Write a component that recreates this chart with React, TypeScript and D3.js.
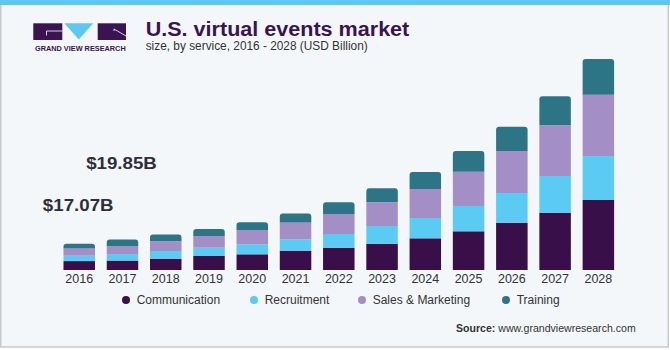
import React from 'react';
import * as d3 from 'd3';

// ---- data ----
const years = ['2016', '2017', '2018', '2019', '2020', '2021', '2022', '2023', '2024', '2025', '2026', '2027', '2028'];
const seriesNames = ['Communication', 'Recruitment', 'Sales & Marketing', 'Training'];
const communication = [5.78, 6.13, 7.34, 9.09, 10.19, 12.53, 14.48, 17.08, 20.58, 25.13, 30.71, 37.21, 45.45];
const recruitment = [3.52, 4.23, 5.0, 5.39, 6.49, 7.34, 8.9, 11.49, 13.18, 16.43, 19.29, 23.83, 28.57];
const salesMarketing = [4.65, 5.06, 6.3, 7.6, 9.29, 11.04, 12.99, 15.39, 18.83, 22.27, 27.27, 32.92, 39.81];
const training = [3.12, 4.43, 4.35, 4.55, 5.0, 5.84, 7.6, 9.09, 11.04, 13.44, 15.78, 18.83, 23.18];
const annotationYears = ['2016', '2017'];
const annotationLabels = ['$17.07B', '$19.85B'];

// ---- styles / layout ----
const W = 670;
const H = 350;
const colors = ['#380f48', '#5ccbf4', '#a38ec5', '#2e7487'];
const bg = '#f3f7fa';
const sans = '"Liberation Sans", Arial, sans-serif';
const legendX = [126, 254, 362, 506];
const annotationY = [211, 169.3];

function roundedTop(x: number, y: number, w: number, h: number, r: number) {
  const p = d3.path();
  p.moveTo(x, y + h);
  p.lineTo(x, y + r);
  p.arcTo(x, y, x + r, y, r);
  p.lineTo(x + w - r, y);
  p.arcTo(x + w, y, x + w, y + r, r);
  p.lineTo(x + w, y + h);
  p.closePath();
  return p.toString();
}

export default function App() {
  const x = d3.scaleBand<string>().domain(years).range([57.6, 620]).paddingInner(0.272).paddingOuter(0.136);
  const y = d3.scaleLinear().domain([0, 140]).range([270, 54.4]);
  const seriesArrays = [communication, recruitment, salesMarketing, training];
  const table = years.map((yr, i) => {
    const row: any = { year: yr };
    seriesNames.forEach((s, j) => (row[s] = seriesArrays[j][i]));
    return row;
  });
  const stacked = d3.stack<any>().keys(seriesNames)(table);
  const bw = x.bandwidth();

  return (
    <svg width={W} height={H} style={{ position: 'absolute', left: 0, top: 0, display: 'block' }}>
      <rect x={0} y={0} width={W} height={H} fill="#ffffff" />
      <rect x={0.75} y={0} width={667.5} height={347} fill={bg} stroke="#c6cacd" strokeWidth={1.5} />
      <rect x={0} y={0} width={W} height={5} fill="#5ec8f1" />

      {/* logo */}
      <g>
        <rect x={33.3} y={23.3} width={29} height={16.7} fill="#3a1450" />
        <path d="M46.5,31 L62.3,31 M46.5,31 L46.5,35.5" stroke="#ffffff" strokeWidth={0.8} fill="none" />
        <path d="M64.3,23.3 L93.3,23.3 L78.8,39.5 Z" fill="#5ec8f1" />
        <rect x={97.7} y={23.3} width={28.3} height={16.7} fill="#3a1450" />
        <path d="M114,29 L126,36 M114,29 L114,31" stroke="#ffffff" strokeWidth={0.8} fill="none" />
        <text x={35} y={50.7} fontFamily={sans} fontWeight="bold" fontSize={6.6} fill="#3a1450" textLength={90.7} lengthAdjust="spacingAndGlyphs">GRAND VIEW RESEARCH</text>
      </g>

      {/* title */}
      <text x={145.7} y={36} fontFamily={sans} fontWeight="bold" fontSize={19.5} fill="#3a1450" textLength={263.6} lengthAdjust="spacingAndGlyphs">U.S. virtual events market</text>
      <text x={145.7} y={50} fontFamily={sans} fontSize={12} fill="#333333" textLength={222} lengthAdjust="spacingAndGlyphs">size, by service, 2016 - 2028 (USD Billion)</text>

      {/* bars */}
      {stacked.map((layer, li) => (
        <g key={layer.key} fill={colors[li]}>
          {layer.map((d: any) => {
            const x0 = x(d.data.year) as number;
            const y0 = y(d[1]);
            const h = y(d[0]) - y(d[1]);
            if (li === stacked.length - 1) {
              return <path key={d.data.year} d={roundedTop(x0, y0, bw, h, 3)} />;
            }
            return <rect key={d.data.year} x={x0} y={y0} width={bw} height={h} />;
          })}
        </g>
      ))}

      {/* year labels */}
      {years.map((yr) => (
        <text key={yr} x={(x(yr) as number) + bw / 2} y={282.7} textAnchor="middle" fontFamily={sans} fontSize={12.5} fill="#333333">{yr}</text>
      ))}

      {/* annotations */}
      {annotationYears.map((yr, i) => (
        <text key={yr} x={(x(yr) as number) - 20.6} y={annotationY[i]} fontFamily={sans} fontWeight="bold" fontSize={16.5} fill="#2e2e38" textLength={70.7} lengthAdjust="spacingAndGlyphs">{annotationLabels[i]}</text>
      ))}

      {/* legend */}
      {seriesNames.map((s, i) => (
        <g key={s}>
          <circle cx={legendX[i]} cy={300} r={4} fill={colors[i]} />
          <text x={legendX[i] + 10.7} y={304} fontFamily={sans} fontSize={12} fill="#333333">{s}</text>
        </g>
      ))}

      {/* source */}
      <text x={456} y={331.7} fontFamily={sans} fontSize={11} fill="#333333" textLength={179.7} lengthAdjust="spacingAndGlyphs">
        <tspan fontWeight="bold">Source:</tspan>
        <tspan> www.grandviewresearch.com</tspan>
      </text>
    </svg>
  );
}
